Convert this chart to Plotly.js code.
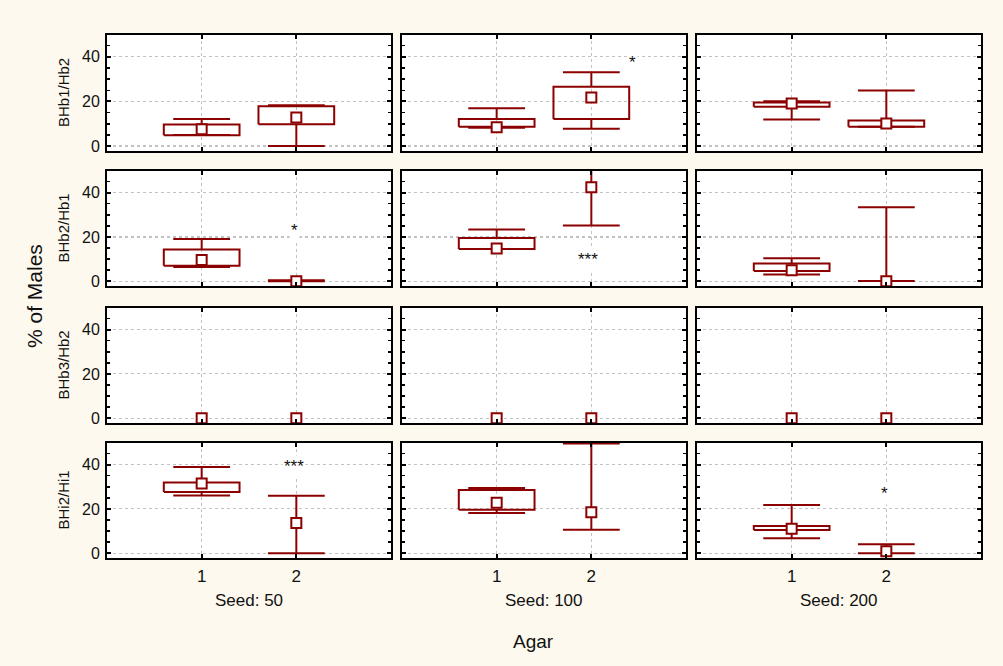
<!DOCTYPE html>
<html>
<head>
<meta charset="utf-8">
<script src="https://cdn.plot.ly/plotly-3.0.1.min.js"></script>
<style>html,body{margin:0;padding:0;background:#fdf9ee;}#chart{width:1003px;height:666px;}</style>
</head>
<body>
<div id="chart"></div>
<script>
// ---- data ----
const rowLabels = ["BHb1/Hb2", "BHb2/Hb1", "BHb3/Hb2", "BHi2/Hi1"];
const seedLabels = ["Seed: 50", "Seed: 100", "Seed: 200"];
const agarCats = [1, 2];
// indexed [row][col][agar category]
const medians = [
  [[7.5, 12.8], [8.4, 21.8], [19.1, 10.1]],
  [[9.5, 0], [14.8, 42.5], [4.9, 0]],
  [[0, 0], [0, 0], [0, 0]],
  [[31.5, 13.6], [22.8, 18.5], [11.0, 0.8]]
];
const boxLow = [
  [[4.9, 9.8], [8.7, 12.2], [17.6, 8.7]],
  [[7.0, null], [14.5, null], [4.6, null]],
  [[null, null], [null, null], [null, null]],
  [[27.6, null], [19.6, null], [10.5, null]]
];
const boxHigh = [
  [[9.7, 17.9], [12.2, 26.6], [19.5, 11.5]],
  [[14.3, null], [19.5, null], [8.0, null]],
  [[null, null], [null, null], [null, null]],
  [[31.9, null], [28.5, null], [12.3, null]]
];
const whiskerMin = [
  [[5.0, 0], [8.2, 7.8], [11.9, 8.7]],
  [[6.4, 0], [14.5, 25.2], [3.0, 0.1]],
  [[null, null], [null, null], [null, null]],
  [[26.1, 0], [18.1, 10.6], [6.7, 0]]
];
const whiskerMax = [
  [[12.1, 18.3], [17.0, 33.1], [20.1, 24.9]],
  [[19.1, 0.4], [23.3, 56], [10.4, 33.4]],
  [[null, null], [null, null], [null, null]],
  [[38.9, 25.9], [29.4, 49.6], [21.8, 4.0]]
];
// significance marks: [row, col, agar x, value y, text]
const sigMarks = [
  [0, 1, 2.44, 39.4, "*"],
  [1, 0, 1.98, 24.9, "*"],
  [1, 1, 1.97, 11.5, "***"],
  [3, 0, 1.98, 40.9, "***"],
  [3, 2, 1.98, 28.8, "*"]
];

// ---- style ----
const RED = "#8b0000";
const FONT = "Liberation Sans, Arial, sans-serif";
const W = 1003, H = 666;
const colPx = [[107, 391], [402, 686], [697, 981]];
const rowPx = [[35, 151], [171, 286], [308, 423], [443, 558]];
const BOXW = 0.4, CAPW = 0.3;

const traces = [];
const layout = {
  width: W, height: H,
  margin: {l: 0, r: 0, t: 0, b: 0},
  paper_bgcolor: "#fdf9ee",
  plot_bgcolor: "#ffffff",
  showlegend: false,
  font: {family: FONT, size: 15, color: "#111"},
  annotations: []
};

for (let r = 0; r < 4; r++) {
  for (let c = 0; c < 3; c++) {
    const n = r * 3 + c + 1;
    const xa = "x" + (n === 1 ? "" : n), ya = "y" + (n === 1 ? "" : n);
    const bx = [], by = [], wx = [], wy = [];
    agarCats.forEach((cat, k) => {
      const lo = boxLow[r][c][k], hi = boxHigh[r][c][k], md = medians[r][c][k];
      const wmin = whiskerMin[r][c][k], wmax = whiskerMax[r][c][k];
      if (lo !== null && hi !== null) {
        bx.push(cat - BOXW, cat + BOXW, cat + BOXW, cat - BOXW, cat - BOXW, null);
        by.push(lo, lo, hi, hi, lo, null);
      }
      const top = hi !== null ? hi : md;
      const bot = lo !== null ? lo : md;
      if (wmax !== null) {
        wx.push(cat, cat, null, cat - CAPW, cat + CAPW, null);
        wy.push(top, wmax, null, wmax, wmax, null);
      }
      if (wmin !== null) {
        wx.push(cat, cat, null, cat - CAPW, cat + CAPW, null);
        wy.push(bot, wmin, null, wmin, wmin, null);
      }
    });
    traces.push({type: "scatter", mode: "lines", x: wx, y: wy, xaxis: xa, yaxis: ya,
      line: {color: RED, width: 2}, hoverinfo: "skip", connectgaps: false});
    traces.push({type: "scatter", mode: "lines", x: bx, y: by, xaxis: xa, yaxis: ya,
      line: {color: RED, width: 2}, hoverinfo: "skip", connectgaps: false});
    traces.push({type: "scatter", mode: "markers", x: agarCats, y: medians[r][c], xaxis: xa, yaxis: ya,
      marker: {symbol: "square", size: 10, color: "#ffffff", line: {color: RED, width: 2}},
      cliponaxis: true, hoverinfo: "y"});

    const axCommon = {
      showline: true, linecolor: "#000", linewidth: 2, mirror: "ticks",
      ticks: "inside", tickcolor: "#000", tickwidth: 2, ticklen: 4,
      showgrid: true, gridcolor: "#c2c2c2", griddash: "3px,3px", gridwidth: 1.2,
      zeroline: false, fixedrange: true,
      tickfont: {family: FONT, size: 16, color: "#111"}
    };
    layout["xaxis" + (n === 1 ? "" : n)] = Object.assign({}, axCommon, {
      domain: [colPx[c][0] / W, colPx[c][1] / W],
      anchor: ya, range: [0, 3], tickvals: agarCats, ticktext: agarCats.map(String),
      showticklabels: r === 3, ticklabelstandoff: 2,
      tickfont: {family: FONT, size: 17, color: "#111"}
    });
    layout["yaxis" + (n === 1 ? "" : n)] = Object.assign({}, axCommon, {
      domain: [1 - rowPx[r][1] / H, 1 - rowPx[r][0] / H],
      anchor: xa, range: [-2.2, 49.8], tick0: 0, dtick: 20,
      minor: {dtick: 5, ticks: "inside", ticklen: 3, tickwidth: 1.5, tickcolor: "#000", showgrid: false},
      showticklabels: c === 0, ticklabelstandoff: 2
    });
  }
  layout.annotations.push({
    xref: "paper", yref: "paper", x: 63 / W, y: 1 - (rowPx[r][0] + rowPx[r][1]) / 2 / H,
    text: rowLabels[r], textangle: -90, showarrow: false,
    font: {family: FONT, size: 15, color: "#111"}, xanchor: "center", yanchor: "middle"
  });
}
seedLabels.forEach((s, c) => {
  layout.annotations.push({
    xref: "paper", yref: "paper", x: (colPx[c][0] + colPx[c][1]) / 2 / W, y: 1 - 600 / H,
    text: s, showarrow: false, font: {family: FONT, size: 17, color: "#111"},
    xanchor: "center", yanchor: "middle"
  });
});
sigMarks.forEach(m => {
  const n = m[0] * 3 + m[1] + 1;
  layout.annotations.push({
    xref: "x" + (n === 1 ? "" : n), yref: "y" + (n === 1 ? "" : n),
    x: m[2], y: m[3], text: m[4], showarrow: false, bgcolor: "#ffffff",
    font: {family: FONT, size: 17, color: "#111"}, xanchor: "center", yanchor: "middle", yshift: -4
  });
});
layout.annotations.push({
  xref: "paper", yref: "paper", x: 34 / W, y: 1 - 296 / H, text: "% of Males",
  textangle: -90, showarrow: false, font: {family: FONT, size: 21, color: "#111"},
  xanchor: "center", yanchor: "middle"
});
layout.annotations.push({
  xref: "paper", yref: "paper", x: 533 / W, y: 1 - 641 / H, text: "Agar",
  showarrow: false, font: {family: FONT, size: 19, color: "#111"},
  xanchor: "center", yanchor: "middle"
});

Plotly.newPlot("chart", traces, layout, {displayModeBar: false, staticPlot: true});
</script>
</body>
</html>
